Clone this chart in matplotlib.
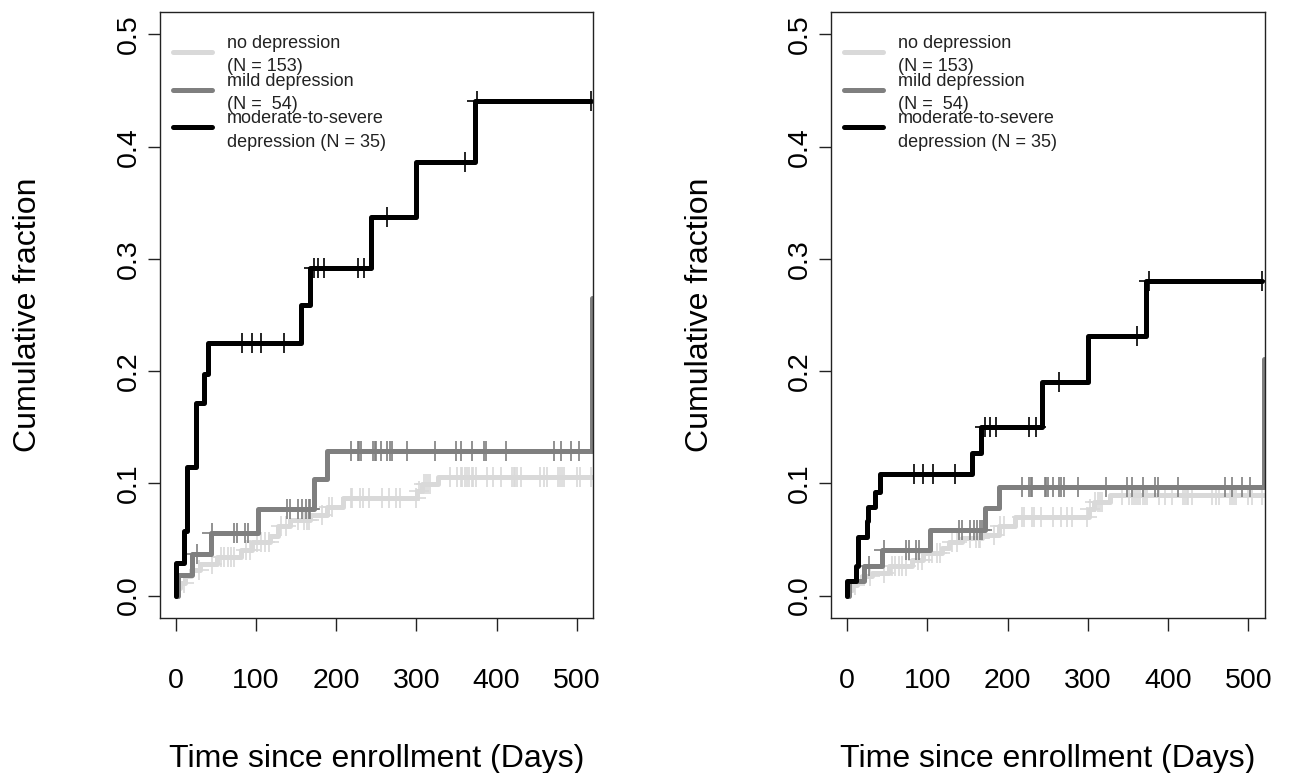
import numpy as np
import matplotlib
matplotlib.use("Agg")
import matplotlib.pyplot as plt

plt.rcParams["font.family"] = ["Liberation Sans", "DejaVu Sans"]

# ---- data ----
# event times (days) shared by both panels, cumulative fraction per panel
light_t = [1, 6, 12, 19, 31, 52, 81, 95, 118, 127, 143, 168, 189, 209, 301, 307, 327]
light_left = [0.0065, 0.011, 0.017, 0.023, 0.028, 0.034, 0.041, 0.048, 0.053,
              0.062, 0.0675, 0.072, 0.079, 0.087, 0.093, 0.0995, 0.1054]
light_right = [0.005, 0.0098, 0.013, 0.017, 0.020, 0.026, 0.032, 0.038, 0.042,
               0.048, 0.051, 0.054, 0.0616, 0.0704, 0.077, 0.0837, 0.0897]
light_cens = [10, 29, 46, 56, 60, 65, 69, 73, 88, 93, 102, 106, 112, 116, 131, 137,
              153, 160, 164, 166, 183, 191, 195, 218, 220, 230, 233, 241, 257, 266,
              274, 280, 299, 303, 309, 312, 315, 317, 342, 351, 355, 357, 360, 363,
              365, 369, 371, 374, 388, 396, 405, 419, 421, 423, 425, 430, 454, 459,
              463, 477, 479, 482, 484, 500, 504, 517]

mild_t = [3, 21, 44, 103, 172, 189, 519]
mild_left = [0.0185, 0.037, 0.0557, 0.077, 0.1036, 0.129, 0.265]
mild_right = [0.013, 0.026, 0.041, 0.058, 0.078, 0.097, 0.211]
mild_cens = [27, 46, 73, 77, 86, 90, 139, 143, 153, 158, 162, 166, 168, 218, 227,
             229, 231, 246, 248, 250, 256, 264, 267, 270, 288, 323, 349, 355, 369,
             384, 387, 412, 471, 480, 492, 502]

severe_t = [0, 11, 14, 25, 26, 35, 41, 156, 167, 243, 300, 373]
severe_left = [0.0286, 0.0571, 0.1143, 0.1429, 0.1714, 0.1977, 0.225, 0.2585,
               0.2916, 0.3375, 0.3866, 0.4406]
severe_right = [0.013, 0.026, 0.052, 0.066, 0.079, 0.092, 0.108, 0.127, 0.150,
                0.190, 0.231, 0.280]
severe_cens = [83, 95, 107, 135, 172, 178, 185, 227, 235, 264, 361, 376, 517]

legend_lines = [("no depression", "(N = 153)"),
                ("mild depression", "(N =  54)"),
                ("moderate-to-severe", "depression (N = 35)")]
colors = ["#d9d9d9", "#7f7f7f", "#000000"]
end_day = [519, 519, 517]

x_ticks = [0, 100, 200, 300, 400, 500]
y_ticks = [0.0, 0.1, 0.2, 0.3, 0.4, 0.5]

W, H = 1289, 773
fig = plt.figure(figsize=(W / 100, H / 100), dpi=100)


def draw_curve(ax, t, v, cens, end, col):
    t = np.array([0] + list(t) + [end], dtype=float)
    v = np.array([0] + list(v) + [v[-1]], dtype=float)
    ax.step(t, v, where="post", color=col, lw=3.6,
            solid_joinstyle="round", solid_capstyle="round")
    cens = np.array(cens, dtype=float)
    idx = np.searchsorted(t, cens, side="right") - 1
    ax.plot(cens, v[idx], ls="none", marker="+", ms=15, mew=1.2, color=col)


def panel(left_px, series):
    ax = fig.add_axes([left_px / W, (H - 618) / H, 433.5 / W, 606 / H])
    for (t, v, c, col, end) in series:
        draw_curve(ax, t, v, c, end, col)
    ax.set_xlim(-20, 520)
    ax.set_ylim(-0.02, 0.52)
    ax.set_xticks(x_ticks)
    ax.set_yticks(y_ticks)
    ax.set_yticklabels([f"{y:.1f}" for y in y_ticks], rotation=90, va="center")
    ax.tick_params(labelsize=20.5, length=9, width=1.0, color="#222222")
    ax.tick_params(axis="x", pad=27)
    ax.tick_params(axis="y", pad=4)
    for s in ax.spines.values():
        s.set_linewidth(1.0)
        s.set_color("#222222")
    ax.set_xlabel("Time since enrollment (Days)", fontsize=23, labelpad=36)
    ax.set_ylabel("Cumulative fraction", fontsize=23, labelpad=52)

    # legend, drawn by hand to keep R's overlapping two-line entries
    lx0, lx1, tx = 0.0305, 0.1204, 0.155
    for k, ((l1, l2), col) in enumerate(zip(legend_lines, colors)):
        ly = 1 - (52.3 + 37.5 * k - 12) / 606
        ax.plot([lx0, lx1], [ly, ly], transform=ax.transAxes, color=col, lw=3.6,
                solid_capstyle="round", clip_on=False)
        y1 = 1 - (43.3 + 37.8 * k - 12) / 606
        y2 = 1 - (66.9 + 37.8 * k - 12) / 606
        ax.text(tx, y1, l1, transform=ax.transAxes, fontsize=13, va="center",
                color="#222222")
        ax.text(tx, y2, l2, transform=ax.transAxes, fontsize=13, va="center",
                color="#222222")
    return ax


panel(159.5, [(light_t, light_left, light_cens, colors[0], end_day[0]),
              (mild_t, mild_left, mild_cens, colors[1], end_day[1]),
              (severe_t, severe_left, severe_cens, colors[2], end_day[2])])
panel(831, [(light_t, light_right, light_cens, colors[0], end_day[0]),
            (mild_t, mild_right, mild_cens, colors[1], end_day[1]),
            (severe_t, severe_right, severe_cens, colors[2], end_day[2])])

fig.savefig("out.png", dpi=100)
